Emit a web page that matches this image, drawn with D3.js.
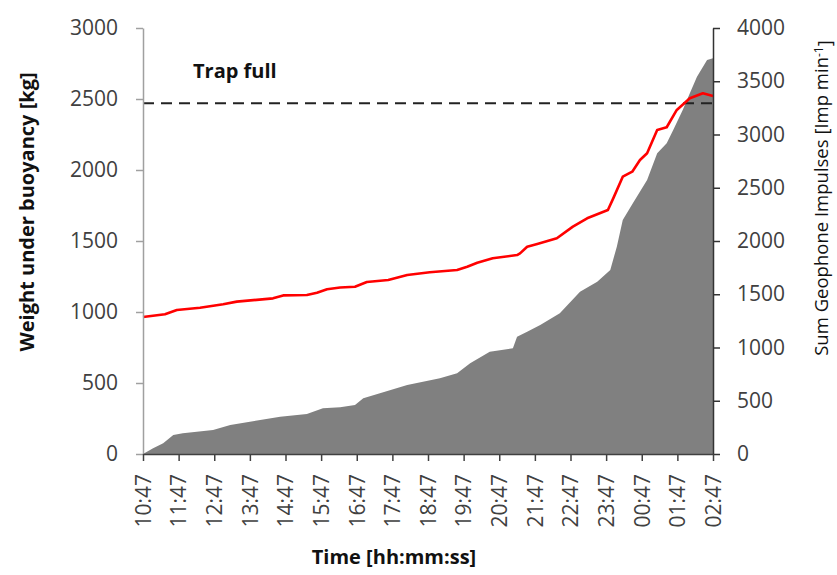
<!DOCTYPE html>
<html>
<head>
<meta charset="utf-8">
<title>Trap weight and geophone impulses</title>
<style>
  body { margin: 0; padding: 0; background: #fff; }
  text { font-family: "Open Sans", "DejaVu Sans", sans-serif; }
</style>
</head>
<body>
<div id="chart"></div>
<script src="https://d3js.org/d3.v7.min.js"></script>
<script>
// minutes since 10:47
var timeTicks = [0, 60, 120, 180, 240, 300, 360, 420, 480, 540, 600, 660, 720, 780, 840, 900, 960];
var tickLabels = ["10:47", "11:47", "12:47", "13:47", "14:47", "15:47", "16:47", "17:47", "18:47",
                  "19:47", "20:47", "21:47", "22:47", "23:47", "00:47", "01:47", "02:47"];

// weight under buoyancy [kg]
var weightTime = [0, 37, 57, 96, 135, 158, 219, 236, 276, 293, 310, 332, 357, 377, 413, 445, 483, 529, 546,
                  563, 589, 630, 635, 647, 664, 697, 724, 748, 783, 792, 808, 824, 837, 849, 866, 882, 899,
                  921, 943, 960];
var weightKg = [965, 984, 1014, 1030, 1054, 1073, 1096, 1117, 1120, 1136, 1160, 1172, 1178, 1211, 1225, 1260,
                1280, 1296, 1319, 1347, 1378, 1401, 1413, 1460, 1479, 1519, 1601, 1660, 1718, 1800, 1953,
                1988, 2070, 2118, 2282, 2301, 2423, 2505, 2540, 2521];

// sum geophone impulses [Imp/min]
var geoTime = [0, 17, 34, 51, 67, 118, 147, 180, 231, 276, 303, 332, 357, 371, 399, 445, 500, 529, 551, 584,
               623, 630, 647, 669, 702, 736, 765, 787, 798, 808, 825, 849, 866, 882, 893, 909, 921, 933,
               950, 960];
var geoImp = [0, 53, 100, 178, 194, 225, 272, 303, 350, 376, 429, 438, 460, 523, 570, 648, 711, 758, 851, 961,
              992, 1101, 1148, 1211, 1321, 1524, 1618, 1728, 1947, 2197, 2354, 2573, 2823, 2917, 3042, 3230,
              3387, 3543, 3700, 3716];

var trapFull = 2470;
var leftTicks = [0, 500, 1000, 1500, 2000, 2500, 3000];
var rightTicks = [0, 500, 1000, 1500, 2000, 2500, 3000, 3500, 4000];

var width = 837, height = 575;
var x0 = 143, x1 = 713, yTop = 28, yBottom = 454;

var svg = d3.select("#chart").append("svg")
    .attr("width", width)
    .attr("height", height);

var x = d3.scaleLinear().domain([0, 960]).range([x0, x1]);
var yLeft = d3.scaleLinear().domain([0, 3000]).range([yBottom, yTop]);
var yRight = d3.scaleLinear().domain([0, 4000]).range([yBottom, yTop]);

var geo = geoTime.map(function(t, i) { return { t: t, v: geoImp[i] }; });
var weight = weightTime.map(function(t, i) { return { t: t, v: weightKg[i] }; });

// grey area
svg.append("path")
    .datum(geo)
    .attr("fill", "#808080")
    .attr("d", d3.area()
      .x(function(d) { return x(d.t); })
      .y0(yBottom)
      .y1(function(d) { return yRight(d.v); }));

// trap full line
svg.append("line")
    .attr("x1", x(0)).attr("x2", x(960))
    .attr("y1", yLeft(trapFull)).attr("y2", yLeft(trapFull))
    .attr("stroke", "#222")
    .attr("stroke-width", 2.2)
    .attr("stroke-dasharray", "11,7");

// red line
svg.append("path")
    .datum(weight)
    .attr("fill", "none")
    .attr("stroke", "#ff0000")
    .attr("stroke-width", 2.6)
    .attr("stroke-linejoin", "round")
    .attr("d", d3.line()
      .x(function(d) { return x(d.t); })
      .y(function(d) { return yLeft(d.v); }));

// axes
var fs = "21px";

var gl = svg.append("g")
    .attr("transform", "translate(" + x0 + ",0)")
    .call(d3.axisLeft(yLeft).tickValues(leftTicks).tickFormat(d3.format("d"))
      .tickSize(7).tickPadding(18).tickSizeOuter(0));
gl.select(".domain").attr("stroke", "#a0a0a0").attr("stroke-width", 1.5);
gl.selectAll(".tick line").attr("stroke", "#a0a0a0").attr("stroke-width", 1.5);
gl.selectAll(".tick text").attr("fill", "#404040").style("font-size", fs);

var gr = svg.append("g")
    .attr("transform", "translate(" + x1 + ",0)")
    .call(d3.axisRight(yRight).tickValues(rightTicks).tickFormat(d3.format("d"))
      .tickSize(7).tickPadding(17).tickSizeOuter(0));
gr.select(".domain").attr("stroke", "#333").attr("stroke-width", 1.5);
gr.selectAll(".tick line").attr("stroke", "#333").attr("stroke-width", 1.5);
gr.selectAll(".tick text").attr("fill", "#404040").style("font-size", fs);

var gx = svg.append("g")
    .attr("transform", "translate(0," + yBottom + ")")
    .call(d3.axisBottom(x).tickValues(timeTicks).tickSize(7).tickSizeOuter(0)
      .tickFormat(function(d, i) { return tickLabels[i]; }));
gx.select(".domain").attr("stroke", "#404040").attr("stroke-width", 1.5);
gx.selectAll(".tick line").attr("stroke", "#404040").attr("stroke-width", 1.5);
gx.selectAll(".tick text")
    .attr("fill", "#404040")
    .style("font-size", fs)
    .attr("transform", "rotate(-90)")
    .attr("text-anchor", "end")
    .attr("x", -20)
    .attr("y", 0)
    .attr("dy", "0.35em");

// titles
svg.append("text")
    .attr("x", 193).attr("y", 78)
    .style("font-size", "20px").style("font-weight", "bold")
    .attr("fill", "#111")
    .text("Trap full");

svg.append("text")
    .attr("x", 394).attr("y", 564)
    .attr("text-anchor", "middle")
    .style("font-size", "20px").style("font-weight", "bold")
    .attr("fill", "#111")
    .text("Time [hh:mm:ss]");

svg.append("text")
    .attr("transform", "translate(34,212) rotate(-90)")
    .attr("text-anchor", "middle")
    .style("font-size", "20px").style("font-weight", "bold")
    .attr("fill", "#111")
    .text("Weight under buoyancy [kg]");

var rt = svg.append("text")
    .attr("transform", "translate(828,198) rotate(-90)")
    .attr("text-anchor", "middle")
    .style("font-size", "18.5px")
    .attr("fill", "#111");
rt.append("tspan").text("Sum Geophone Impulses [Imp min");
rt.append("tspan").attr("dy", "-0.45em").style("font-size", "12px").text("-1");
rt.append("tspan").attr("dy", "0.45em").text("]");
</script>
</body>
</html>
